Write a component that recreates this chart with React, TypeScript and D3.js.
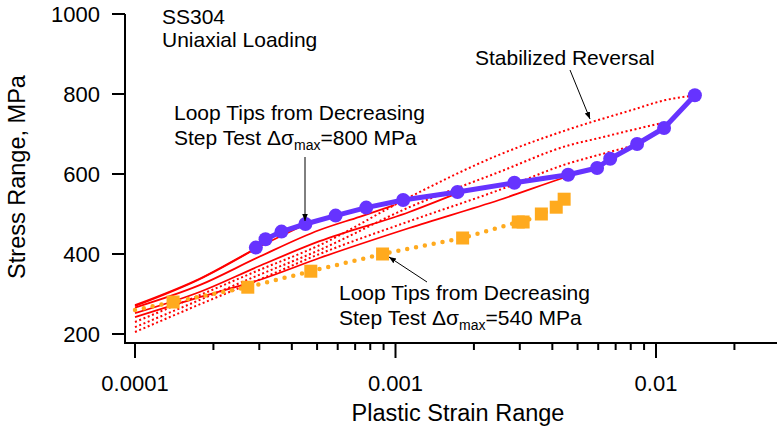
import React from "react";
import * as d3 from "d3";

// loop tips, step test with max stress range 800 MPa
const purpleStrain = [2.91e-4, 3.17e-4, 3.65e-4, 4.51e-4, 5.89e-4, 7.72e-4, 1.07e-3, 1.73e-3, 2.86e-3, 4.6e-3, 5.94e-3, 6.67e-3, 8.46e-3, 1.074e-2, 1.41e-2];
const purpleStress = [416, 437, 456, 475, 496, 516, 535, 555, 578, 598, 615, 638, 675, 715, 797];

// loop tips, step test with max stress range 540 MPa
const orangeStrain = [1.4e-4, 2.71e-4, 4.73e-4, 8.92e-4, 1.81e-3, 2.96e-3, 3.09e-3, 3.63e-3, 4.14e-3, 4.44e-3];
const orangeStress = [280, 317, 357, 400, 440, 480, 480, 500, 517, 537];
const orangeLead = [1e-4, 260]; // where the dotted line starts, no marker

// reversal curves (upper loop branches), [strain, stress]
const solidCurves: number[][][] = [
  [[1e-4, 270], [1.77e-4, 337], [2.9e-4, 413]],
  [[1e-4, 272], [1.77e-4, 338], [3.0e-4, 418], [4.48e-4, 473]],
  [[1e-4, 266], [1.77e-4, 322], [3.0e-4, 393], [5.11e-4, 460], [7.28e-4, 493], [9.9e-4, 522]],
  [[1e-4, 252], [1.77e-4, 305], [3.0e-4, 370], [5.11e-4, 432], [1.13e-3, 505], [1.73e-3, 552]],
  [[1e-4, 242], [1.77e-4, 292], [3.0e-4, 335], [5.11e-4, 390], [1.13e-3, 465], [2.5e-3, 535], [4.64e-3, 595], [5.84e-3, 615]],
];
const dottedCurves: number[][][] = [
  [[1e-4, 230], [1.77e-4, 297], [3.0e-4, 360], [5.11e-4, 422], [1.13e-3, 542], [2.5e-3, 648], [4.64e-3, 712], [8.09e-3, 760], [1.09e-2, 785], [1.36e-2, 795]],
  [[1e-4, 217], [1.77e-4, 285], [3.0e-4, 348], [5.11e-4, 410], [1.13e-3, 517], [2.5e-3, 605], [4.64e-3, 672], [6.05e-3, 690], [8.09e-3, 710], [1.045e-2, 727]],
  [[1e-4, 205], [1.77e-4, 274], [3.0e-4, 336], [5.11e-4, 400], [1.13e-3, 482], [2.5e-3, 560], [4.64e-3, 627], [6.05e-3, 648], [8.31e-3, 672]],
];

const yTicks = [200, 400, 600, 800, 1000];
const xTickLabels = ["0.0001", "0.001", "0.01"];

const W = 777, H = 431;
const FONT = "'Liberation Sans', Arial, Helvetica, sans-serif";

export default function App() {
  const x = d3.scaleLog().domain([1e-4, 1e-2]).range([135, 656]);
  const y = d3.scaleLinear().domain([200, 1000]).range([334, 14]);

  const axisX = 125, axisY = 343;
  const xMax = x.invert(W);

  const minor: number[] = [];
  for (let e = -4; e <= -2; e++)
    for (let k = 1; k <= 9; k++) {
      const v = k * Math.pow(10, e);
      if (v <= xMax) minor.push(v);
    }

  const line = d3.line<number[]>()
    .x(d => x(d[0]))
    .y(d => y(d[1]))
    .curve(d3.curveMonotoneX);
  const straight = d3.line<number[]>().x(d => x(d[0])).y(d => y(d[1]));

  const purplePts = purpleStrain.map((s, i) => [s, purpleStress[i]]);
  const orangePts = orangeStrain.map((s, i) => [s, orangeStress[i]]);

  const sub = (label: string) => (
    <>
      Step Test Δσ<tspan fontSize={14} dy={5}>max</tspan>
      <tspan dy={-5}>={label} MPa</tspan>
    </>
  );

  return (
    <svg width={W} height={H} style={{ position: "absolute", left: 0, top: 0, background: "#fff" }} fontFamily={FONT}>
      <defs>
        <marker id="ah" viewBox="0 0 10 10" refX="10" refY="5" markerWidth="7" markerHeight="12"
          markerUnits="userSpaceOnUse" orient="auto">
          <path d="M0,1 L10,5 L0,9 z" fill="#000" />
        </marker>
      </defs>

      {/* reversal curves */}
      {solidCurves.map((c, i) => (
        <path key={"s" + i} d={line(c) || ""} fill="none" stroke="#ff0000" strokeWidth={1.8} />
      ))}
      {dottedCurves.map((c, i) => (
        <path key={"d" + i} d={line(c) || ""} fill="none" stroke="#ff0000" strokeWidth={2} strokeDasharray="2,2.6" />
      ))}

      {/* 540 MPa step test */}
      <path d={straight([orangeLead, ...orangePts]) || ""} fill="none" stroke="#ffaa1e" strokeWidth={4.5}
        strokeLinecap="round" strokeDasharray="0,9" />
      {orangePts.map((d, i) => (
        <rect key={i} x={x(d[0]) - 6.5} y={y(d[1]) - 6.5} width={13} height={13} fill="#ffaa1e" />
      ))}

      {/* 800 MPa step test */}
      <path d={straight(purplePts) || ""} fill="none" stroke="#6633ff" strokeWidth={5} strokeLinejoin="round" />
      {purplePts.map((d, i) => (
        <circle key={i} cx={x(d[0])} cy={y(d[1])} r={7} fill="#6633ff" />
      ))}

      {/* axes */}
      <line x1={axisX} x2={axisX} y1={y(1000)} y2={axisY + 1} stroke="#000" strokeWidth={2} />
      <line x1={axisX - 1} x2={W} y1={axisY} y2={axisY} stroke="#000" strokeWidth={2} />
      {yTicks.map(t => (
        <g key={t}>
          <line x1={axisX - 13} x2={axisX} y1={y(t)} y2={y(t)} stroke="#000" strokeWidth={2} />
          <text x={axisX - 25} y={y(t) + 8} textAnchor="end" fontSize={22}>{t}</text>
        </g>
      ))}
      {minor.map(v => {
        const major = Math.abs(Math.log10(v) - Math.round(Math.log10(v))) < 1e-9;
        return (
          <line key={v} x1={x(v)} x2={x(v)} y1={axisY} y2={axisY + (major ? 15 : 7)} stroke="#000" strokeWidth={2} />
        );
      })}
      {xTickLabels.map(l => (
        <text key={l} x={x(+l)} y={391} textAnchor="middle" fontSize={22}>{l}</text>
      ))}
      <text x={458} y={421} textAnchor="middle" fontSize={23.5}>Plastic Strain Range</text>
      <text transform="translate(25,177) rotate(-90)" textAnchor="middle" fontSize={23.5}>Stress Range, MPa</text>

      {/* annotations */}
      <text x={162} y={24} fontSize={21}>SS304</text>
      <text x={162} y={47} fontSize={21}>Uniaxial Loading</text>

      <text x={174} y={120} fontSize={21}>Loop Tips from Decreasing</text>
      <text x={174} y={145} fontSize={21}>{sub("800")}</text>
      <line x1={305} y1={157} x2={305} y2={221} stroke="#000" strokeWidth={1} markerEnd="url(#ah)" />

      <text x={475} y={65} fontSize={21}>Stabilized Reversal</text>
      <line x1={570} y1={70} x2={590} y2={119} stroke="#000" strokeWidth={1} markerEnd="url(#ah)" />

      <text x={339} y={300} fontSize={21}>Loop Tips from Decreasing</text>
      <text x={339} y={325} fontSize={21}>{sub("540")}</text>
      <line x1={427} y1={282} x2={389} y2={257} stroke="#000" strokeWidth={1} markerEnd="url(#ah)" />
    </svg>
  );
}
